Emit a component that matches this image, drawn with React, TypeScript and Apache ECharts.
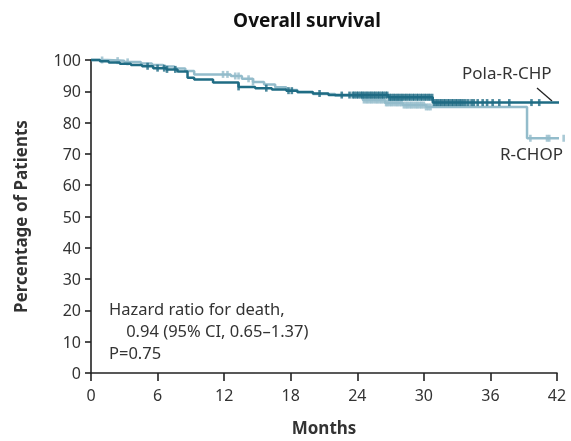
import React, { useEffect, useRef } from "react";
import * as echarts from "echarts";

const monthTicks = [0, 6, 12, 18, 24, 30, 36, 42];

// Pola-R-CHP Kaplan-Meier steps
const polaTimes = [0, 0.8, 1.6, 2.6, 3.6, 4.6, 5.6, 6.8, 7.8, 8.7, 9.3, 11.0, 13.3, 14.8, 16.3, 17.6, 18.6, 20.0, 21.4, 26.8, 30.8, 42.6];
const polaSurv = [100, 99.6, 99.2, 98.8, 98.4, 98.0, 97.4, 97.0, 96.3, 94.3, 93.8, 92.8, 91.4, 91.0, 90.6, 90.2, 89.8, 89.3, 88.8, 88.1, 86.4, 86.4];

// R-CHOP Kaplan-Meier steps
const rchopTimes = [0, 1.5, 3.0, 4.5, 5.5, 6.5, 7.5, 8.5, 9.3, 12.6, 13.6, 14.6, 15.6, 16.6, 17.6, 18.6, 20.0, 22.0, 24.5, 26.5, 28.1, 30.2, 39.3, 42.8];
const rchopSurv = [100, 99.8, 99.4, 98.9, 98.4, 97.9, 97.3, 96.5, 95.4, 94.9, 94.0, 93.0, 92.2, 91.3, 90.4, 89.7, 89.1, 88.6, 87.2, 86.3, 85.6, 85.0, 75.0, 75.0];

// censoring times (months)
const polaCensor = [5.1, 6.0, 6.6, 6.85, 7.6, 13.3, 15.8, 17.8, 18.1, 20.6, 22.6, 23.3,
  23.6, 23.75, 23.95, 24.1, 24.3, 24.45, 24.6, 24.8, 24.95, 25.15, 25.3, 25.5, 25.65, 25.85, 26.0,
  26.2, 26.35, 26.55, 26.7, 26.9, 27.05, 27.25, 27.4, 27.6, 27.75, 27.95, 28.1, 28.3, 28.45, 28.65,
  28.8, 29.0, 29.15, 29.35, 29.5, 29.7, 29.85, 30.05, 30.2, 30.4, 30.55, 30.75, 30.9, 31.1, 31.25,
  31.45, 31.6, 31.8, 31.95, 32.15, 32.3, 32.5, 32.65, 32.85, 33.0, 33.2, 33.35, 33.55, 33.75, 34.0,
  34.3, 34.5, 34.85, 35.3, 35.7, 36.2, 36.8, 37.7, 39.7, 40.4];
const rchopCensor = [1.0, 2.4, 3.3, 11.9, 12.3, 13.0, 13.3, 14.2, 14.6,
  24.6, 24.8, 24.95, 25.15, 25.3, 25.5, 25.7, 25.85, 26.05, 26.2, 26.4, 26.6, 26.75, 26.95, 27.1,
  27.3, 27.5, 27.65, 27.85, 28.0, 28.2, 28.4, 28.55, 28.75, 28.9, 29.1, 29.3, 29.45, 29.65, 29.8,
  30.0, 30.2, 30.4, 30.6, 39.6, 41.1, 41.3, 42.6];

const darkColor = "#1f6c84";
const lightColor = "#93bccb";

function survAt(times: number[], surv: number[], t: number) {
  let v = surv[0];
  for (let i = 0; i < times.length; i++) if (times[i] <= t) v = surv[i];
  return v;
}

export default function App() {
  const ref = useRef<HTMLDivElement>(null);
  useEffect(() => {
    if (!ref.current) return;
    const chart = echarts.init(ref.current, null, { renderer: "svg" });
    const font = "'Noto Sans', sans-serif";
    const textColor = "#333";
    chart.setOption({
      animation: false,
      textStyle: { fontFamily: font },
      title: {
        text: "Overall survival",
        left: 302,
        textAlign: "center",
        top: 5,
        textStyle: { fontFamily: font, fontSize: 19, fontWeight: "bold", color: "#111" },
      },
      grid: { left: 91, right: 14, top: 60, bottom: 67 },
      xAxis: {
        type: "value",
        min: 0,
        max: 42,
        interval: 6,
        name: "Months",
        nameLocation: "middle",
        nameGap: 46,
        nameTextStyle: { fontFamily: font, fontSize: 17, fontWeight: "bold", color: "#333" },
        axisLine: { lineStyle: { color: "#222", width: 1.6 } },
        axisTick: { length: 8, lineStyle: { color: "#222", width: 1.6 } },
        axisLabel: {
          margin: 14,
          fontSize: 16,
          color: textColor,
          fontFamily: font,
          customValues: monthTicks,
        },
        splitLine: { show: false },
      },
      yAxis: {
        type: "value",
        min: 0,
        max: 100,
        interval: 10,
        name: "Percentage of Patients",
        nameLocation: "middle",
        nameGap: 62,
        nameTextStyle: { fontFamily: font, fontSize: 17, fontWeight: "bold", color: "#333" },
        axisLine: { show: true, lineStyle: { color: "#222", width: 1.6 } },
        axisTick: { show: true, length: 6, lineStyle: { color: "#222", width: 1.6 } },
        axisLabel: { margin: 10, fontSize: 16, color: textColor, fontFamily: font },
        splitLine: { show: false },
      },
      series: [
        {
          name: "R-CHOP",
          type: "line",
          step: "end",
          clip: false,
          symbol: "none",
          lineStyle: { color: lightColor, width: 2.5 },
          data: rchopTimes.map((t, i) => [t, rchopSurv[i]]),
          z: 2,
        },
        {
          name: "R-CHOP censored",
          type: "scatter",
          clip: false,
          symbol: "rect",
          symbolSize: [2.6, 7],
          itemStyle: { color: lightColor },
          data: rchopCensor.map((t) => [t, survAt(rchopTimes, rchopSurv, t)]),
          z: 2,
        },
        {
          name: "Pola-R-CHP",
          type: "line",
          step: "end",
          clip: false,
          symbol: "none",
          lineStyle: { color: darkColor, width: 2.5 },
          data: polaTimes.map((t, i) => [t, polaSurv[i]]),
          z: 3,
        },
        {
          name: "Pola-R-CHP censored",
          type: "scatter",
          clip: false,
          symbol: "rect",
          symbolSize: [2.6, 7],
          itemStyle: { color: darkColor },
          data: polaCensor.map((t) => [t, survAt(polaTimes, polaSurv, t)]),
          z: 3,
        },
      ],
      graphic: [
        {
          type: "text",
          left: 462,
          top: 64,
          style: { text: "Pola-R-CHP", fontFamily: font, fontSize: 17, fill: textColor },
        },
        {
          type: "line",
          shape: { x1: 537, y1: 88, x2: 552, y2: 101 },
          style: { stroke: "#222", lineWidth: 1.3 },
        },
        {
          type: "text",
          left: 500,
          top: 145,
          style: { text: "R-CHOP", fontFamily: font, fontSize: 17, fill: textColor },
        },
        {
          type: "text",
          left: 109,
          top: 297,
          style: {
            text: "Hazard ratio for death,\n    0.94 (95% CI, 0.65\u20131.37)\nP=0.75",
            fontFamily: font,
            fontSize: 16.5,
            lineHeight: 22,
            fill: textColor,
          },
        },
      ],
    });
    return () => chart.dispose();
  }, []);
  return <div ref={ref} style={{ position: "fixed", left: 0, top: 0, width: 571, height: 441 }} />;
}
